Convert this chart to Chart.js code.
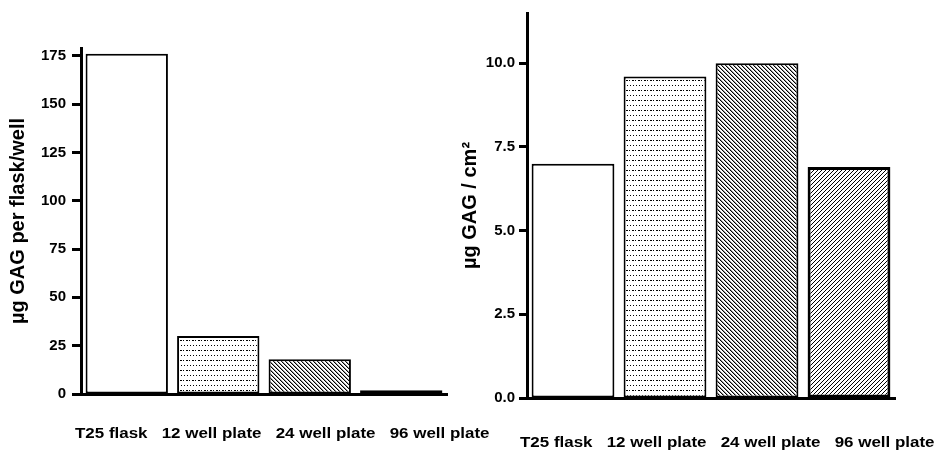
<!DOCTYPE html>
<html>
<head>
<meta charset="utf-8">
<script src="https://cdn.jsdelivr.net/npm/chart.js@4.4.1/dist/chart.umd.min.js"></script>
<style>
  html, body { margin: 0; padding: 0; background: #fff; width: 938px; height: 451px; overflow: hidden; }
  .box { position: absolute; top: 0; height: 451px; }
  #leftBox { left: 0; width: 500px; }
  #rightBox { left: 440px; width: 498px; }
</style>
</head>
<body>
<div class="box" id="leftBox"><canvas id="left"></canvas></div>
<div class="box" id="rightBox"><canvas id="right"></canvas></div>
<script>
// ---- data ----
const categories = ['T25 flask', '12 well plate', '24 well plate', '96 well plate'];
const gagPerWell = [176, 30, 18, 2];          // µg GAG per flask/well
const gagPerArea = [7.0, 9.6, 10.0, 6.9];     // µg GAG / cm²
const leftTicksStep = 25;
const rightTicksStep = 2.5;

// ---- patterns ----
function makePattern(w, h, draw) {
  const c = document.createElement('canvas');
  c.width = w; c.height = h;
  const g = c.getContext('2d');
  g.fillStyle = '#fff'; g.fillRect(0, 0, w, h);
  draw(g);
  return c.getContext('2d').createPattern(c, 'repeat');
}
const pWhite = '#ffffff';
const pDots = makePattern(6, 10, g => {
  g.fillStyle = '#000';
  g.fillRect(0, 0, 2, 1);
  g.fillRect(3, 0, 1, 1);
  g.fillRect(1, 5, 1, 1);
  g.fillRect(4, 5, 1, 1);
});
const pDiag = makePattern(4, 4, g => {
  for (let i = 0; i < 4; i++) {
    g.fillStyle = '#000'; g.fillRect(i, i, 1, 1);
    g.fillStyle = '#9a9a9a'; g.fillRect((i + 1) % 4, i, 1, 1);
  }
});
const pHatch = makePattern(8, 8, g => {
  g.fillStyle = '#000';
  for (let i = 0; i < 8; i++) {
    g.fillRect(i, 7 - i, 1, 1);
    g.fillRect(i, (11 - i) % 8, 1, 1);
  }
  g.fillStyle = '#fff';
  for (let i = 0; i < 8; i++) g.fillRect(i, i, 1, 1);
});
const fills = [pWhite, pDots, pDiag, pHatch];

// ---- label row plugin (x labels as a single text line) ----
const rowLabels = {
  id: 'rowLabels',
  afterDraw(chart, args, o) {
    const { ctx, chartArea } = chart;
    ctx.save();
    ctx.font = 'bold ' + o.size + 'px "Liberation Sans", Arial, sans-serif';
    ctx.fillStyle = '#000';
    ctx.textBaseline = 'middle';
    ctx.textAlign = 'left';
    ctx.translate(chartArea.left + o.dx, chartArea.bottom + o.dy);
    ctx.scale(o.stretch, 1);
    ctx.fillText(o.labels.join(o.gap), 0, 0);
    ctx.restore();
  }
};

Chart.defaults.font.family = '"Liberation Sans", Arial, sans-serif';
Chart.defaults.color = '#000';
Chart.defaults.animation = false;

function makeChart(id, values, opts) {
  return new Chart(document.getElementById(id), {
    type: 'bar',
    data: {
      labels: categories,
      datasets: [{
        data: values,
        backgroundColor: fills,
        borderColor: '#000',
        borderWidth: opts.borderWidths,
        borderSkipped: false,
        barPercentage: 0.9,
        categoryPercentage: 1.0
      }]
    },
    options: {
      responsive: true,
      maintainAspectRatio: false,
      animation: false,
      layout: { padding: { top: opts.top, right: opts.right, bottom: 0, left: 0 } },
      plugins: {
        legend: { display: false },
        tooltip: { enabled: false },
        rowLabels: { labels: categories, size: 15, gap: '   ', stretch: 1.13, dx: opts.labelDx, dy: opts.labelDy }
      },
      scales: {
        x: {
          ticks: { display: false },
          grid: { display: false },
          border: { display: true, color: '#000', width: 3 },
          afterFit: s => { s.height = opts.xHeight; }
        },
        y: {
          min: 0,
          max: opts.max,
          ticks: {
            stepSize: opts.step,
            includeBounds: false,
            padding: opts.tickPad,
            font: { size: 15, weight: 'bold' },
            color: '#000',
            callback: opts.fmt
          },
          grid: { display: true, drawOnChartArea: false, drawTicks: true, tickLength: opts.tickLen, tickWidth: 3, tickColor: '#000' },
          border: { display: true, color: '#000', width: 3 },
          title: {
            display: true,
            text: opts.title,
            color: '#000',
            font: { size: 20, weight: 'bold' },
            padding: { top: opts.titlePad, bottom: 0 }
          },
          afterFit: s => { s.width = opts.yWidth; }
        }
      }
    },
    plugins: [rowLabels]
  });
}

makeChart('left', gagPerWell, {
  borderWidths: [2, 2, 2, 2],
  top: 48, right: 53, xHeight: 57, yWidth: 81,
  max: 179, step: leftTicksStep, tickPad: 6, tickLen: 9,
  fmt: v => String(v),
  title: 'µg GAG per flask/well', titlePad: 6,
  labelDx: -6, labelDy: 40
});

makeChart('right', gagPerArea, {
  borderWidths: [2, 2, 2, 3],
  top: 11, right: 43, xHeight: 53, yWidth: 87,
  max: 11.5, step: rightTicksStep, tickPad: 4, tickLen: 8,
  fmt: v => v.toFixed(1),
  title: 'µg GAG / cm²', titlePad: 18,
  labelDx: -7, labelDy: 45
});
</script>
</body>
</html>
